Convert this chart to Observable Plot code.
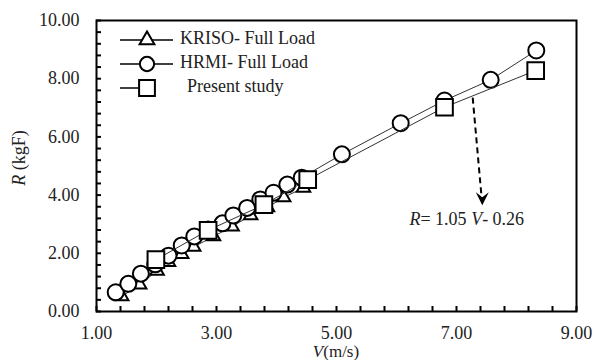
<!DOCTYPE html>
<html><head><meta charset="utf-8">
<script src="https://cdn.jsdelivr.net/npm/d3@7"></script>
<script src="https://cdn.jsdelivr.net/npm/@observablehq/plot@0.6"></script>
<style>
body{margin:0;background:#fff}
svg{font-family:"Liberation Serif","Times New Roman",serif}
</style>
</head><body><div id="chart"></div>
<script>
// ---- data ----
const krisoV = [1.42, 1.72, 2.01, 2.20, 2.42, 2.62, 2.95, 3.26, 3.57, 3.85, 4.12, 4.45];
const krisoR = [0.52, 0.92, 1.40, 1.70, 1.97, 2.22, 2.58, 2.92, 3.30, 3.58, 3.92, 4.25];

const hrmiV = [1.32, 1.53, 1.74, 1.98, 2.20, 2.42, 2.63, 2.86, 3.10, 3.28, 3.51, 3.73, 3.95, 4.18, 4.42, 5.09, 6.07, 6.80, 7.57, 8.33];
const hrmiR = [0.66, 0.95, 1.30, 1.62, 1.92, 2.27, 2.58, 2.82, 3.03, 3.30, 3.56, 3.85, 4.08, 4.36, 4.60, 5.40, 6.47, 7.25, 7.96, 8.97];

const presentV = [1.99, 2.86, 3.79, 4.52, 6.80, 8.32];
const presentR = [1.78, 2.79, 3.67, 4.53, 7.02, 8.28];

const xTickLabels = [1, 3, 5, 7, 9];
const yTickLabels = [0, 2, 4, 6, 8, 10];
const xMinorTicks = d3.range(0, 21).map(i => 1 + i * 0.4);
const yMinorTicks = d3.range(0, 26).map(i => i * 0.4);

const legendLabels = ["KRISO- Full Load", "HRMI- Full Load", "Present study"];
const equationLabel = ["R", "= 1.05 ", "V", "- 0.26"];
// annotation arrow (data units) and equation anchor
const arrowData = [{x1: 7.27, y1: 7.35, x2: 7.43, y2: 3.65}];
const equationPos = {x: 7.18, y: 3.1};

const kriso = krisoV.map((v, i) => ({V: v, R: krisoR[i]}));
const hrmi = hrmiV.map((v, i) => ({V: v, R: hrmiR[i]}));
const present = presentV.map((v, i) => ({V: v, R: presentR[i]}));

const W = 594, H = 360, mL = 96, mR = 18, mT = 20, mB = 49;
const plotW = W - mL - mR, plotH = H - mT - mB;

const arrowHead = {
  draw(ctx, size) {
    const k = Math.sqrt(size) / 10;
    ctx.moveTo(0, 0);
    ctx.lineTo(-6.5 * k, -13 * k);
    ctx.lineTo(0, -8 * k);
    ctx.lineTo(6.5 * k, -13 * k);
    ctx.closePath();
  }
};

const dotStyle = {x: "V", y: "R", fill: "white", stroke: "black", strokeWidth: 2};
const lineStyle = {x: "V", y: "R", stroke: "#333", strokeWidth: 1};

const chart = Plot.plot({
  width: W, height: H,
  marginLeft: mL, marginRight: mR, marginTop: mT, marginBottom: mB,
  style: {fontFamily: "Liberation Serif, Times New Roman, serif", fontSize: "18px", background: "white", color: "black"},
  x: {domain: [1, 9]},
  y: {domain: [0, 10]},
  marks: [
    Plot.tickX(xMinorTicks, {x: d => d, insetTop: plotH - 5, stroke: "black", strokeWidth: 2}),
    Plot.tickY(yMinorTicks, {y: d => d, insetRight: plotW - 5, stroke: "black", strokeWidth: 2}),
    Plot.axisX(xTickLabels, {tickSize: 0, tickPadding: 15, tickFormat: d => d.toFixed(2), label: null, fontSize: 18, fill: "#222"}),
    Plot.axisY(yTickLabels, {tickSize: 0, tickPadding: 17, tickFormat: d => d.toFixed(2), label: null, fontSize: 18, fill: "#222"}),
    Plot.line(kriso, lineStyle),
    Plot.dot(kriso, {...dotStyle, symbol: "triangle", r: 5}),
    Plot.line(hrmi, lineStyle),
    Plot.dot(hrmi, {...dotStyle, symbol: "circle", r: 8}),
    Plot.line(present, lineStyle),
    Plot.dot(present, {...dotStyle, symbol: "square", r: 9.4}),
    Plot.link(arrowData, {x1: "x1", y1: "y1", x2: "x2", y2: "y2", stroke: "black", strokeWidth: 2, strokeDasharray: "6,4"}),
    Plot.dot(arrowData, {x: "x2", y: "y2", symbol: arrowHead, r: 5.64, fill: "black", stroke: "none"}),
    Plot.frame({stroke: "black", strokeWidth: 2})
  ]
});

document.getElementById("chart").appendChild(chart);

const svg = d3.select(chart);
const sx = chart.scale("x"), sy = chart.scale("y");

// y axis label
const yl = svg.append("text")
  .attr("transform", `translate(21,158) rotate(-90)`)
  .attr("text-anchor", "middle").attr("dominant-baseline", "middle")
  .attr("font-size", 18).attr("fill", "#222");
yl.append("tspan").attr("font-style", "italic").text("R");
yl.append("tspan").text(" (kgF)");

// x axis label
const xl = svg.append("text")
  .attr("x", mL + plotW / 2).attr("y", 353)
  .attr("text-anchor", "middle").attr("dominant-baseline", "middle")
  .attr("font-size", 17).attr("fill", "#222");
xl.append("tspan").attr("font-style", "italic").text("V");
xl.append("tspan").text("(m/s)");

// equation
const eq = svg.append("text")
  .attr("x", sx.apply(equationPos.x)).attr("y", sy.apply(equationPos.y))
  .attr("text-anchor", "middle").attr("dominant-baseline", "middle")
  .attr("font-size", 18).attr("fill", "#222");
equationLabel.forEach((t, i) => eq.append("tspan").attr("font-style", i % 2 === 0 ? "italic" : null).text(t));

// legend
const symbols = [d3.symbolTriangle, d3.symbolCircle, d3.symbolSquare];
const symSizes = [95, 160, 250];
const lg = svg.append("g").attr("transform", `translate(${mL},${mT})`);
legendLabels.forEach((label, i) => {
  const y = 20 + i * 24;
  lg.append("line").attr("x1", 24).attr("x2", i === 2 ? 44 : 77).attr("y1", y).attr("y2", y)
    .attr("stroke", "black").attr("stroke-width", 1.5);
  lg.append("path").attr("d", d3.symbol(symbols[i], symSizes[i])())
    .attr("transform", `translate(51,${y})`)
    .attr("fill", "white").attr("stroke", "black").attr("stroke-width", 2);
  lg.append("text").attr("x", i === 2 ? 91 : 84).attr("y", y)
    .attr("text-anchor", "start")
    .attr("dominant-baseline", "middle").attr("font-size", 18).attr("fill", "#222").text(label);
});
</script>
</body></html>
